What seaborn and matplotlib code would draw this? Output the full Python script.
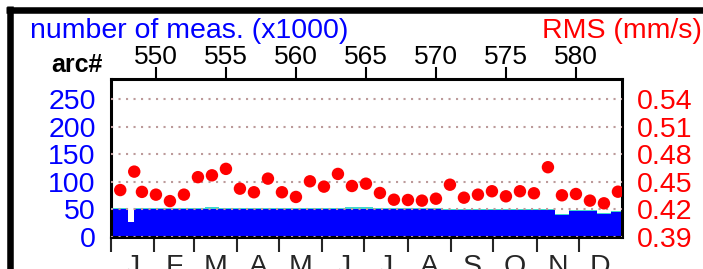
import matplotlib
matplotlib.use("Agg")
import matplotlib.pyplot as plt
from matplotlib.lines import Line2D
import numpy as np
import pandas as pd
import seaborn as sns

# arc numbers (top axis) and RMS per arc (right axis)
dot_arcs = [547.45, 548.45, 549, 550, 551, 552, 553, 554, 555, 556, 557, 558, 559,
            560, 561, 562, 563, 564, 565, 566, 567, 568, 569, 570, 571, 572, 573,
            574, 575, 576, 577, 578, 579, 580, 581, 582, 583]
rms = [0.441, 0.461, 0.439, 0.436, 0.429, 0.436, 0.455, 0.457, 0.464, 0.4425,
       0.4386, 0.4534, 0.4386, 0.4335, 0.4505, 0.4447, 0.4585, 0.4454, 0.4479,
       0.4378, 0.4305, 0.4302, 0.4295, 0.4316, 0.4468, 0.4327, 0.436, 0.4397,
       0.4342, 0.4397, 0.4375, 0.4658, 0.4353, 0.4367, 0.4295, 0.4266, 0.4392]

# number of measurements (x1000) per arc bin
meas_edges = [546.79, 548.0, 548.43, 549.5, 550.5, 551.5, 552.5, 553.5, 554.5, 555.5,
              556.5, 557.5, 558.5, 559.5, 560.5, 561.5, 562.5, 563.5, 564.5, 565.5,
              566.5, 567.5, 568.5, 569.5, 570.5, 571.5, 572.5, 573.5, 574.5, 575.5,
              576.5, 577.5, 578.5, 579.5, 580.5, 581.5, 582.5, 583.29]
meas_used = [51.0, 27.0, 51.0, 51.0, 51.2, 51.0, 50.8, 51.0, 51.2, 51.0, 50.8, 51.0,
             51.0, 50.6, 50.8, 51.0, 50.8, 50.6, 50.4, 50.2, 50.4, 50.0, 49.8, 50.0,
             49.6, 49.4, 49.2, 49.0, 49.0, 48.8, 48.8, 48.6, 39.4, 47.8, 47.6, 41.4, 45.6]
meas_total = [52.8, 28.0, 52.8, 52.8, 53.0, 52.8, 52.6, 54.0, 53.0, 52.8, 52.6, 52.8,
              52.8, 52.4, 52.6, 52.8, 52.6, 53.6, 53.4, 53.2, 52.2, 51.8, 51.6, 51.8,
              51.4, 51.2, 51.0, 50.8, 50.8, 50.6, 50.6, 50.4, 41.2, 49.6, 49.4, 43.2, 47.4]

meas_ticks = [0, 50, 100, 150, 200, 250]
rms_ticks = [0.39, 0.42, 0.45, 0.48, 0.51, 0.54]
arc_ticks = [550, 555, 560, 565, 570, 575, 580]
month_starts = [0, 31, 59, 90, 120, 151, 181, 212, 243, 273, 304, 334, 365]
month_labels = ["J", "F", "M", "A", "M", "J", "J", "A", "S", "O", "N", "D"]

BLUE = "#0000ff"
RED = "#ff0000"
CYAN = "#40d8c8"
GRID = "#bc9a9a"

sns.set_theme(style="white")
plt.rcParams["font.family"] = ["Liberation Sans", "DejaVu Sans"]

fig = plt.figure(figsize=(7.03, 2.69), dpi=100)
ax = fig.add_axes([111 / 703, 32 / 269, 511 / 703, 158 / 269])

arc0 = meas_edges[0]
ax.set_xlim(arc0, arc0 + 36.5)
ymax = 286
ax.set_ylim(0, ymax)

ax.stairs(meas_total, meas_edges, fill=True, color=CYAN, zorder=1)
ax.stairs(meas_used, meas_edges, fill=True, color=BLUE, zorder=2)

for v in meas_ticks:
    ax.axhline(v, color=GRID, lw=1.5, ls=(0, (1, 2.6)), zorder=3)

ax.set_yticks(meas_ticks)
ax.set_yticklabels([str(v) for v in meas_ticks], color=BLUE, fontsize=20.5)
ax.tick_params(axis="y", length=0, pad=11)

ax.xaxis.tick_top()
ax.set_xticks(arc_ticks)
ax.set_xticklabels([str(v) for v in arc_ticks], fontsize=19, color="black")
ax.tick_params(axis="x", direction="out", length=8.6, width=1.5, pad=-1.3, color="black")

for s in ax.spines.values():
    s.set_linewidth(2.2)
    s.set_color("black")

# right axis: RMS
ax2 = ax.twinx()
ax2.set_ylim(0.39, 0.39 + 0.03 * ymax / 50)
df = pd.DataFrame({"arc": dot_arcs, "rms": rms})
sns.scatterplot(data=df, x="arc", y="rms", ax=ax2, color=RED, s=80,
                edgecolor="none", linewidth=0, zorder=5, legend=False)
ax2.set_xlim(arc0, arc0 + 36.5)
ax2.set_yticks(rms_ticks)
ax2.set_yticklabels([f"{v:.2f}" for v in rms_ticks], color=RED, fontsize=20.5)
ax2.tick_params(axis="y", length=0, pad=11)
ax2.set_xlabel("")
ax2.set_ylabel("")
for s in ax2.spines.values():
    s.set_visible(False)

# bottom axis: months (day of year)
secx = ax.secondary_xaxis("bottom", functions=(lambda a: (a - arc0) * 10,
                                                lambda d: arc0 + d / 10))
secx.set_xticks(month_starts[:-1])
secx.set_xticklabels([])
mids = [(a + b) / 2 for a, b in zip(month_starts[:-1], month_starts[1:])]
secx.set_xticks(mids, minor=True)
secx.set_xticklabels(month_labels, minor=True, fontsize=20.5)
secx.tick_params(axis="x", which="major", direction="out", length=10.8, width=1.5)
secx.tick_params(axis="x", which="minor", length=0, pad=12)
secx.spines["bottom"].set_visible(False)

# texts
fig.text(30 / 703, 1 - 38 / 269, "number of meas. (x1000)", color=BLUE,
         fontsize=20.5, va="baseline", ha="left")
fig.text(702 / 703, 1 - 38 / 269, "RMS (mm/s)", color=RED,
         fontsize=20.5, va="baseline", ha="right")
fig.text(51 / 703, 1 - 72 / 269, "arc#", color="black", fontsize=18,
         fontweight="bold", va="baseline", ha="left")

# frame around the figure
fig.add_artist(Line2D([6 / 703, 1.0], [1 - 9.5 / 269, 1 - 9.5 / 269],
                      transform=fig.transFigure, color="black", lw=4.7,
                      solid_capstyle="butt"))
fig.add_artist(Line2D([9.5 / 703, 9.5 / 703], [0.0, 1 - 6 / 269],
                      transform=fig.transFigure, color="black", lw=4.7,
                      solid_capstyle="butt"))

fig.savefig("out.png", dpi=100)
